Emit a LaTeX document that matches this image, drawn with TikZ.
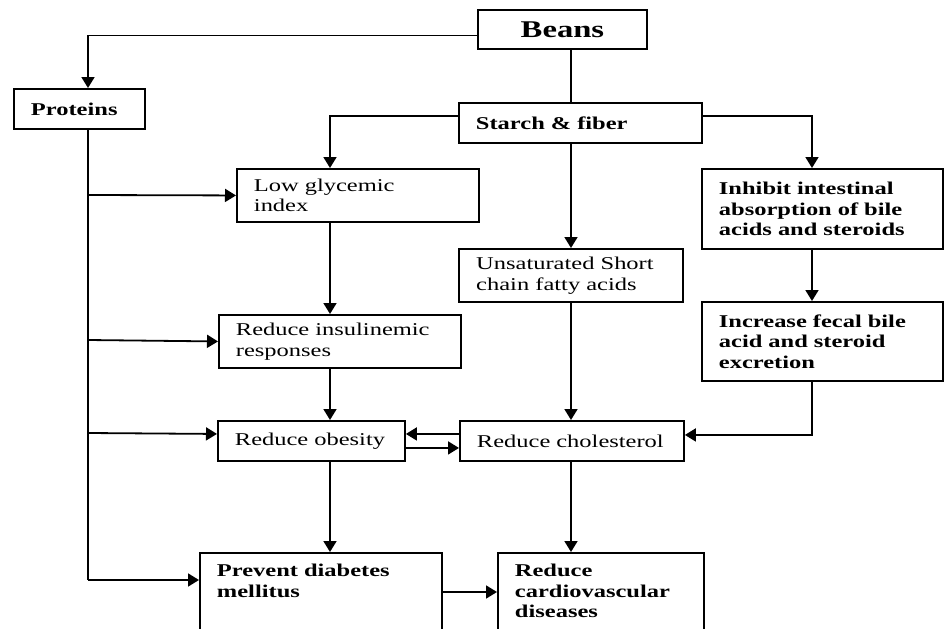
\documentclass[tikz,border=0pt]{standalone}
\usepackage{fontspec}
\setmainfont[FakeStretch=1.36]{Liberation Serif}
\usepackage{tikz}
\usetikzlibrary{arrows.meta}

\begin{document}
\begin{tikzpicture}[x=1pt,y=-1pt,
    bx/.style={draw, line width=1.9pt, anchor=north west, inner xsep=17pt, inner ysep=3pt, align=left,
      font=\fontsize{18}{20.5}\selectfont},
    bxb/.style={bx, font=\fontsize{18}{20.5}\selectfont\bfseries},
    wire/.style={line width=1.8pt},
    arr/.style={wire, -{Triangle[length=11pt,width=13pt]}}]
	\clip (0,0) rectangle (946,629);
	% boxes
	\node[draw, line width=1.9pt, anchor=north west, minimum width=169pt, minimum height=39pt, inner sep=0pt,
	  font=\fontsize{24}{26}\selectfont\bfseries] (beans) at (477,9) {Beans};
	\node[bxb, text width=97pt, minimum height=40pt] (proteins) at (13,88) {Proteins};
	\node[bxb, text width=209pt, minimum height=40pt] (starch) at (458,102) {Starch \& fiber};
	\node[bx, text width=208pt, minimum height=53pt] (lowgly) at (236,168) {Low glycemic\\index};
	\node[bxb, text width=207pt, minimum height=80pt] (inhibit) at (701,168) {Inhibit intestinal\\absorption of bile\\acids and steroids};
	\node[bx, minimum width=224pt, minimum height=53pt] (unsat) at (458,248) {Unsaturated Short\hspace*{12pt}\\chain fatty acids};
	\node[bxb, text width=207pt, minimum height=79pt] (increase) at (701,301) {Increase fecal bile\\acid and steroid\\excretion};
	\node[bx, text width=208pt, minimum height=53pt] (insulin) at (218,314) {Reduce insulinemic\\responses};
	\node[bx, text width=153pt, minimum height=40pt] (obesity) at (217,420) {Reduce obesity};
	\node[bx, text width=190pt, minimum height=40pt] (chol) at (459,420) {Reduce cholesterol};
	\node[bxb, text width=208pt, inner ysep=0pt, text height=24pt, text depth=120pt] (prevent) at (199,552) {Prevent diabetes\\mellitus};
	\node[bxb, text width=172pt, inner ysep=0pt, text height=24pt, text depth=120pt] (cardio) at (497,552) {Reduce\\cardiovascular\\diseases};
	% columns
	\coordinate (colP) at (88,0);
	\coordinate (colL) at (330,0);
	\coordinate (colM) at (571,0);
	\coordinate (colR) at (812,0);
	% from beans
	\draw[arr] ([yshift=-6pt]beans.west) -| (colP |- proteins.north);
	\draw[wire] (colM |- beans.south) -- (colM |- starch.north);
	% from starch
	\draw[arr] ([yshift=7pt]starch.west) -| (colL |- lowgly.north);
	\draw[arr] ([yshift=7pt]starch.east) -| (colR |- inhibit.north);
	\draw[arr] (colM |- starch.south) -- (colM |- unsat.north);
	% right column
	\draw[arr] (colR |- inhibit.south) -- (colR |- increase.north);
	\draw[arr] (colR |- increase.south) |- ([yshift=6pt]chol.east);
	% middle column
	\draw[arr] (colM |- unsat.south) -- (colM |- chol.north);
	\draw[arr] (colM |- chol.south) -- (colM |- cardio.north);
	% left column
	\draw[arr] (colL |- lowgly.south) -- (colL |- insulin.north);
	\draw[arr] (colL |- insulin.south) -- (colL |- obesity.north);
	\draw[arr] (colL |- obesity.south) -- (colL |- prevent.north);
	\draw[arr] ([yshift=7pt]chol.west) -- ([yshift=7pt]obesity.east);
	\draw[arr] ([yshift=-7pt]obesity.east) -- ([yshift=-7pt]chol.west);
	\draw[arr] (prevent.east |- 0,592) -- (cardio.west |- 0,592);
	% proteins spine
	\draw[wire] (colP |- proteins.south) -- (88,580);
	\draw[arr] (88,195) -- (lowgly.west);
	\draw[arr] (88,340) -- (insulin.west);
	\draw[arr] (88,433) -- ([yshift=7pt]obesity.west);
	\draw[arr] (88,580) -- (prevent.west |- 0,580);
\end{tikzpicture}
\end{document}
